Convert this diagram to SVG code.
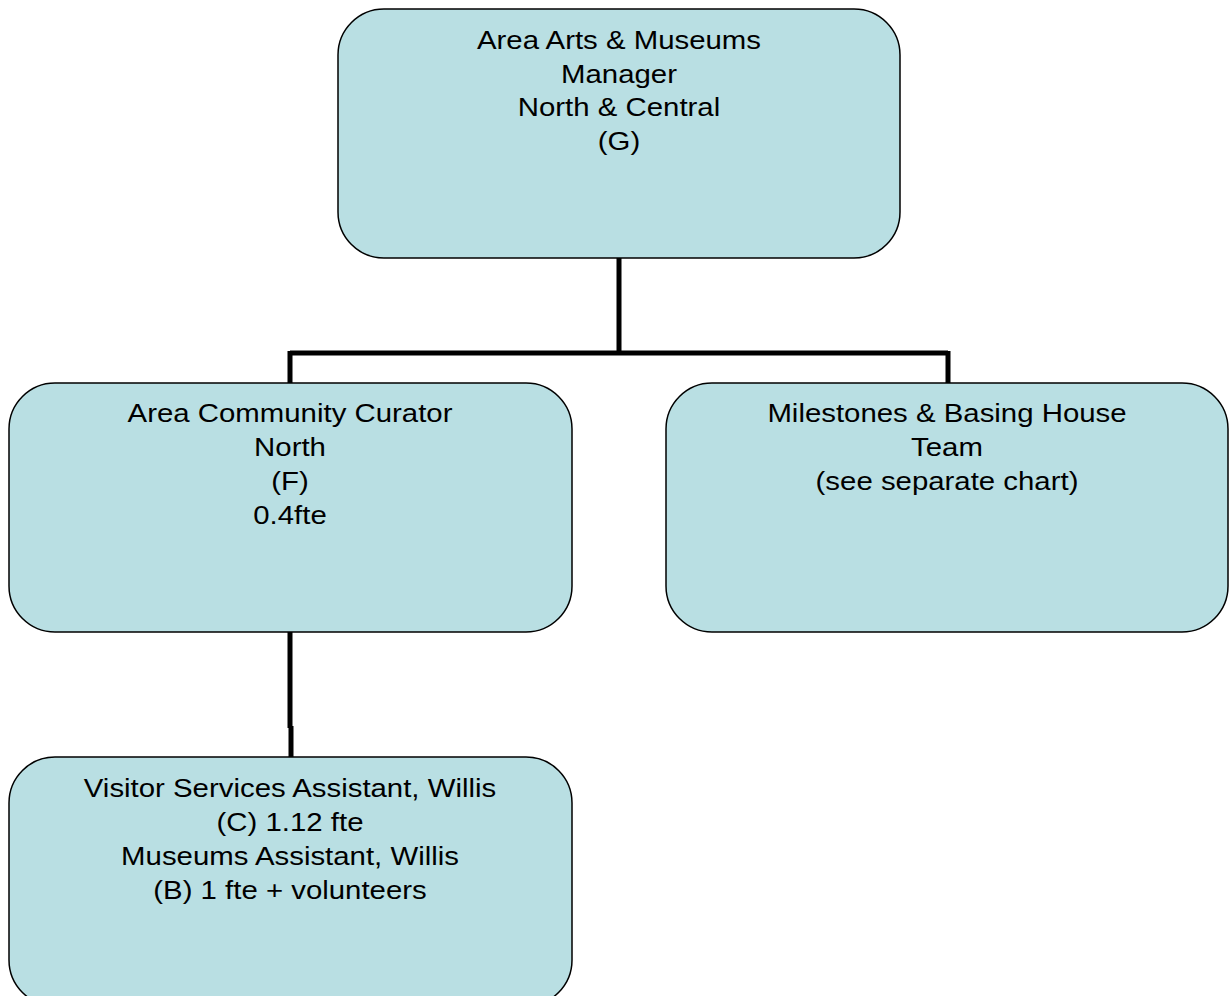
<svg xmlns="http://www.w3.org/2000/svg" width="1229" height="996" viewBox="0 0 1229 996">
<style>
.box{fill:#b9dfe3;stroke:#000;stroke-width:1.5}
.t{font-family:"Liberation Sans",Arial,sans-serif;font-size:26px;fill:#000;text-anchor:middle}
.c{fill:none;stroke:#000;stroke-width:5}
</style>
<rect width="1229" height="996" fill="#fff"/>
<g id="connectors">
<path class="c" d="M619 258V353M290 353H948M290 351V383M948 351V383"/>
<path class="c" d="M290 632V728M291 726V757"/>
</g>
<g id="manager">
<rect class="box" x="338" y="9" width="562" height="249" rx="46"/>
<text class="t" transform="translate(619 0) scale(1.13 1)"><tspan x="0" y="49">Area Arts &amp; Museums</tspan><tspan x="0" y="83">Manager</tspan><tspan x="0" y="116">North &amp; Central</tspan><tspan x="0" y="150">(G)</tspan></text>
</g>
<g id="curator">
<rect class="box" x="9" y="383" width="563" height="249" rx="46"/>
<text class="t" transform="translate(290 0) scale(1.13 1)"><tspan x="0" y="422">Area Community Curator</tspan><tspan x="0" y="456">North</tspan><tspan x="0" y="490">(F)</tspan><tspan x="0" y="524">0.4fte</tspan></text>
</g>
<g id="milestones">
<rect class="box" x="666" y="383" width="562" height="249" rx="46"/>
<text class="t" transform="translate(947 0) scale(1.13 1)"><tspan x="0" y="422">Milestones &amp; Basing House</tspan><tspan x="0" y="456">Team</tspan><tspan x="0" y="490">(see separate chart)</tspan></text>
</g>
<g id="assistants">
<rect class="box" x="9" y="757" width="563" height="249" rx="46"/>
<text class="t" transform="translate(290 0) scale(1.13 1)"><tspan x="0" y="797">Visitor Services Assistant, Willis</tspan><tspan x="0" y="831">(C) 1.12 fte</tspan><tspan x="0" y="865">Museums Assistant, Willis</tspan><tspan x="0" y="899">(B) 1 fte + volunteers</tspan></text>
</g>
</svg>
